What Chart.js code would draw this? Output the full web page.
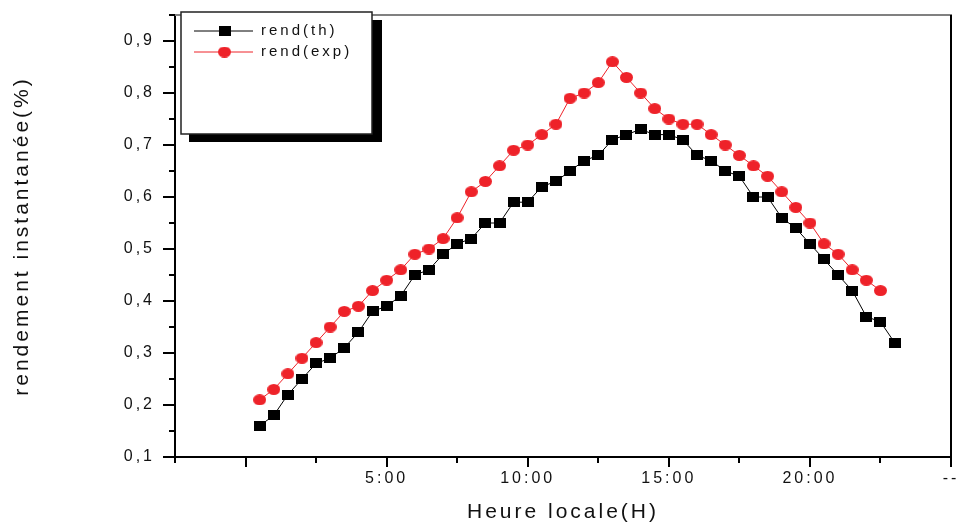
<!DOCTYPE html>
<html>
<head>
<meta charset="utf-8">
<script src="https://cdn.jsdelivr.net/npm/chart.js@4.4.0/dist/chart.umd.min.js"></script>
<style>
    html, body { margin: 0; padding: 0; background: #fff; }
</style>
</head>
<body>
<canvas id="rendChart" width="958" height="527"></canvas>
<script>
// Heure locale (h) and efficiency values
const hoursTh = [0.5, 1, 1.5, 2, 2.5, 3, 3.5, 4, 4.5, 5, 5.5, 6, 6.5, 7, 7.5, 8, 8.5, 9, 9.5, 10,
    10.5, 11, 11.5, 12, 12.5, 13, 13.5, 14, 14.5, 15, 15.5, 16, 16.5, 17, 17.5, 18, 18.5, 19, 19.5, 20,
    20.5, 21, 21.5, 22, 22.5, 23];
const rendTh = [0.16, 0.18, 0.22, 0.25, 0.28, 0.29, 0.31, 0.34, 0.38, 0.39, 0.41, 0.45, 0.46, 0.49, 0.51, 0.52, 0.55, 0.55, 0.59, 0.59,
    0.62, 0.63, 0.65, 0.67, 0.68, 0.71, 0.72, 0.73, 0.72, 0.72, 0.71, 0.68, 0.67, 0.65, 0.64, 0.60, 0.60, 0.56, 0.54, 0.51,
    0.48, 0.45, 0.42, 0.37, 0.36, 0.32];

const hoursExp = [0.5, 1, 1.5, 2, 2.5, 3, 3.5, 4, 4.5, 5, 5.5, 6, 6.5, 7, 7.5, 8, 8.5, 9, 9.5, 10,
    10.5, 11, 11.5, 12, 12.5, 13, 13.5, 14, 14.5, 15, 15.5, 16, 16.5, 17, 17.5, 18, 18.5, 19, 19.5, 20,
    20.5, 21, 21.5, 22, 22.5];
const rendExp = [0.21, 0.23, 0.26, 0.29, 0.32, 0.35, 0.38, 0.39, 0.42, 0.44, 0.46, 0.49, 0.50, 0.52, 0.56, 0.61, 0.63, 0.66, 0.69, 0.70,
    0.72, 0.74, 0.79, 0.80, 0.82, 0.86, 0.83, 0.80, 0.77, 0.75, 0.74, 0.74, 0.72, 0.70, 0.68, 0.66, 0.64, 0.61, 0.58, 0.55,
    0.51, 0.49, 0.46, 0.44, 0.42];

// tick labels
const xTickValues = [5, 10, 15, 20, 25];
const xTickText = ['5:00', '10:00', '15:00', '20:00', '--'];
const yTickValues = [0.1, 0.2, 0.3, 0.4, 0.5, 0.6, 0.7, 0.8, 0.9];
const yTickText = ['0,1', '0,2', '0,3', '0,4', '0,5', '0,6', '0,7', '0,8', '0,9'];

const FONT = "'Liberation Sans', Arial, sans-serif";
Chart.defaults.font.family = FONT;
Chart.defaults.color = '#111';

function makeMarker(w, h, color, round) {
    const c = document.createElement('canvas');
    c.width = w;
    c.height = h;
    const g = c.getContext('2d');
    g.fillStyle = color;
    if (round) {
        g.beginPath();
        g.ellipse(w / 2, h / 2, w / 2, h / 2, 0, 0, Math.PI * 2);
        g.fill();
    } else {
        g.fillRect(0, 0, w, h);
    }
    return c;
}
const squareMark = makeMarker(12, 10, '#000', false);
const dotMark = makeMarker(13, 11, '#ee2229', true);

function findLabel(values, texts, v) {
    const i = values.findIndex(t => Math.abs(t - v) < 1e-6);
    return i >= 0 ? texts[i] : '';
}

// frame, tick marks and boxed legend
const framePlugin = {
    id: 'frameLegend',
    beforeUpdate(chart) { chart.ctx.letterSpacing = '3px'; },
    beforeDraw(chart) { chart.ctx.letterSpacing = '3px'; },
    afterDraw(chart) {
        const ctx = chart.ctx;
        const a = chart.chartArea;
        const xs = chart.scales.x;
        const ys = chart.scales.y;
        ctx.save();
        ctx.lineWidth = 2;

        // top and right edges
        ctx.strokeStyle = '#808080';
        ctx.beginPath();
        ctx.moveTo(a.left, a.top);
        ctx.lineTo(a.right + 1, a.top);
        ctx.stroke();
        ctx.strokeStyle = '#000';
        ctx.beginPath();
        ctx.moveTo(a.right, a.top);
        ctx.lineTo(a.right, a.bottom);
        ctx.stroke();

        // tick marks
        ctx.beginPath();
        ys.ticks.forEach(t => {
            const py = Math.round(ys.getPixelForValue(t.value));
            const len = Math.round(t.value * 100) % 10 === 0 ? 12 : 6;
            ctx.moveTo(a.left - len, py);
            ctx.lineTo(a.left, py);
        });
        xs.ticks.forEach(t => {
            const px = Math.round(xs.getPixelForValue(t.value));
            const len = Math.round(t.value * 10) % 50 === 0 ? 10 : 6;
            ctx.moveTo(px, a.bottom);
            ctx.lineTo(px, a.bottom + len);
        });
        ctx.stroke();

        // legend box with shadow
        ctx.fillStyle = '#000';
        ctx.fillRect(189, 20, 193, 122);
        ctx.fillStyle = '#fff';
        ctx.fillRect(181, 12, 191, 122);
        ctx.strokeStyle = '#222';
        ctx.lineWidth = 1.5;
        ctx.strokeRect(181, 12, 191, 122);

        ctx.font = '15px ' + FONT;
        ctx.textBaseline = 'middle';
        ctx.textAlign = 'left';
        chart.data.datasets.forEach((ds, i) => {
            const y = 31 + i * 21;
            ctx.strokeStyle = ds.borderColor;
            ctx.lineWidth = 1;
            ctx.beginPath();
            ctx.moveTo(194, y);
            ctx.lineTo(253, y);
            ctx.stroke();
            const m = ds.pointStyle;
            ctx.drawImage(m, 224.5 - m.width / 2, y - m.height / 2);
            ctx.fillStyle = '#111';
            ctx.fillText(ds.label, 261, y);
        });
        ctx.restore();
    }
};

const ctx = document.getElementById('rendChart');
const rendChart = new Chart(ctx, {
    type: 'line',
    data: {
        datasets: [{
            label: 'rend(th)',
            data: hoursTh.map((h, i) => ({ x: h, y: rendTh[i] })),
            borderColor: '#000',
            backgroundColor: '#000',
            borderWidth: 1,
            pointStyle: squareMark,
            pointRadius: 6,
            fill: false,
            tension: 0
        }, {
            label: 'rend(exp)',
            data: hoursExp.map((h, i) => ({ x: h, y: rendExp[i] })),
            borderColor: '#ee2229',
            backgroundColor: '#ee2229',
            borderWidth: 1,
            pointStyle: dotMark,
            pointRadius: 6,
            fill: false,
            tension: 0
        }]
    },
    options: {
        responsive: false,
        animation: false,
        layout: {
            padding: { left: 0, right: 3, top: 15, bottom: 0 }
        },
        plugins: {
            legend: { display: false },
            tooltip: { enabled: false }
        },
        scales: {
            x: {
                type: 'linear',
                min: -2.5,
                max: 25,
                ticks: {
                    stepSize: 2.5,
                    autoSkip: false,
                    maxRotation: 0,
                    minRotation: 0,
                    padding: 4,
                    color: '#111',
                    font: { size: 16 },
                    callback: v => findLabel(xTickValues, xTickText, v)
                },
                grid: {
                    drawOnChartArea: false,
                    drawTicks: true,
                    tickLength: 8,
                    color: 'rgba(0,0,0,0)'
                },
                border: { display: true, color: '#000', width: 2 },
                title: {
                    display: true,
                    text: 'Heure locale(H)',
                    color: '#111',
                    font: { size: 21 },
                    padding: { top: 0, bottom: 2 }
                },
                afterFit: s => {
                    s.height = 70;
                    s.paddingLeft = 0;
                    s.paddingRight = 0;
                }
            },
            y: {
                min: 0.1,
                max: 0.95,
                ticks: {
                    stepSize: 0.05,
                    autoSkip: false,
                    padding: 8,
                    color: '#111',
                    font: { size: 16 },
                    callback: v => findLabel(yTickValues, yTickText, v)
                },
                grid: {
                    drawOnChartArea: false,
                    drawTicks: true,
                    tickLength: 12,
                    color: 'rgba(0,0,0,0)'
                },
                border: { display: true, color: '#000', width: 2 },
                title: {
                    display: true,
                    text: 'rendement instantanée(%)',
                    color: '#111',
                    font: { size: 21 },
                    padding: { top: 10, bottom: 0 }
                },
                afterFit: s => {
                    s.width = 175;
                    s.paddingTop = 0;
                    s.paddingBottom = 0;
                }
            }
        }
    },
    plugins: [framePlugin]
});
</script>
</body>
</html>
